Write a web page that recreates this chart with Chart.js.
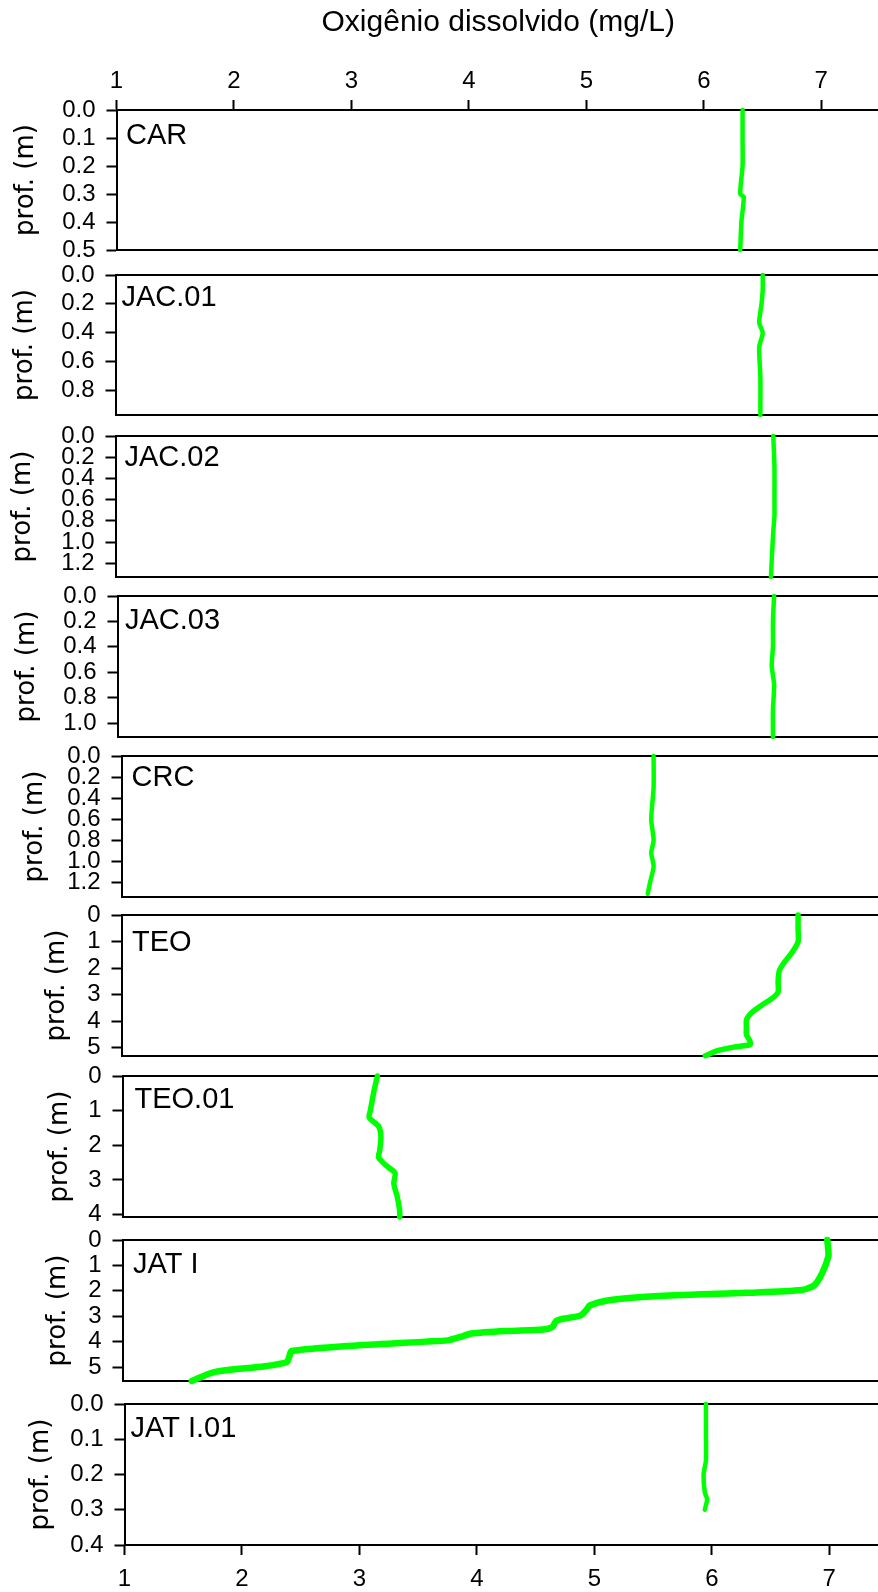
<!DOCTYPE html>
<html>
<head>
<meta charset="utf-8">
<script src="https://cdn.jsdelivr.net/npm/chart.js@4/dist/chart.umd.min.js"></script>
<style>
  html, body { margin: 0; padding: 0; background: #fff; width: 878px; height: 1592px; overflow: hidden; }
  .panel { position: absolute; }
</style>
</head>
<body>
<script>
// Dissolved-oxygen profiles: O.D. (mg/L) against depth (m) at each sampling station

const stations = ['CAR', 'JAC.01', 'JAC.02', 'JAC.03', 'CRC', 'TEO', 'TEO.01', 'JAT I', 'JAT I.01'];

const CAR_depth = [0, 0.1, 0.2, 0.3, 0.31, 0.4, 0.5];
const CAR_od    = [6.33, 6.33, 6.33, 6.31, 6.34, 6.32, 6.31];

const JAC01_depth = [0, 0.1, 0.2, 0.33, 0.4, 0.5, 0.7, 0.97];
const JAC01_od    = [6.51, 6.51, 6.50, 6.48, 6.51, 6.48, 6.49, 6.49];

const JAC02_depth = [0, 0.3, 0.6, 0.75, 0.9, 1.1, 1.33];
const JAC02_od    = [6.60, 6.61, 6.61, 6.61, 6.60, 6.59, 6.58];

const JAC03_depth = [0, 0.2, 0.4, 0.55, 0.7, 0.9, 1.11];
const JAC03_od    = [6.59, 6.58, 6.58, 6.57, 6.59, 6.58, 6.58];

const CRC_depth = [0, 0.3, 0.6, 0.8, 0.92, 1.05, 1.2, 1.31];
const CRC_od    = [5.53, 5.53, 5.51, 5.53, 5.51, 5.53, 5.50, 5.48];

const TEO_depth = [0, 0.5, 1.0, 1.4, 1.8, 2.1, 2.5, 2.9, 3.1, 3.4, 3.7, 3.95, 4.2, 4.5, 4.75, 4.88, 4.97, 5.1, 5.3];
const TEO_od    = [6.76, 6.76, 6.76, 6.71, 6.64, 6.60, 6.59, 6.59, 6.55, 6.45, 6.36, 6.32, 6.32, 6.32, 6.35, 6.35, 6.22, 6.08, 5.97];

const TEO01_depth = [0, 0.45, 1.0, 1.2, 1.45, 1.75, 2.15, 2.35, 2.6, 2.8, 3.1, 3.5, 3.9, 4.07];
const TEO01_od    = [3.17, 3.14, 3.11, 3.10, 3.18, 3.20, 3.19, 3.18, 3.25, 3.32, 3.31, 3.34, 3.36, 3.36];

const JATI_depth = [0, 0.6, 1.05, 1.45, 1.78, 1.97, 2.08, 2.21, 2.37, 2.57, 2.75, 2.97, 3.1, 3.2, 3.42, 3.52, 3.58, 3.68, 3.78, 3.95, 4.0, 4.15, 4.37, 4.58, 4.80, 4.97, 5.2, 5.55];
const JATI_od    = [7.00, 7.01, 6.98, 6.94, 6.89, 6.78, 6.31, 5.53, 5.14, 4.98, 4.95, 4.90, 4.75, 4.69, 4.66, 4.58, 4.28, 3.97, 3.90, 3.77, 3.58, 2.99, 2.44, 2.42, 2.40, 2.21, 1.78, 1.59];

const JATI01_depth = [0, 0.08, 0.16, 0.2, 0.25, 0.27, 0.3];
const JATI01_od    = [5.95, 5.95, 5.95, 5.93, 5.94, 5.96, 5.94];

// tick labels
const odTicks = ['1', '2', '3', '4', '5', '6', '7'];
const CAR_yTicks    = ['0.0', '0.1', '0.2', '0.3', '0.4', '0.5'];
const JAC01_yTicks  = ['0.0', '0.2', '0.4', '0.6', '0.8'];
const JAC02_yTicks  = ['0.0', '0.2', '0.4', '0.6', '0.8', '1.0', '1.2'];
const JAC03_yTicks  = ['0.0', '0.2', '0.4', '0.6', '0.8', '1.0'];
const CRC_yTicks    = ['0.0', '0.2', '0.4', '0.6', '0.8', '1.0', '1.2'];
const TEO_yTicks    = ['0', '1', '2', '3', '4', '5'];
const TEO01_yTicks  = ['0', '1', '2', '3', '4'];
const JATI_yTicks   = ['0', '1', '2', '3', '4', '5'];
const JATI01_yTicks = ['0.0', '0.1', '0.2', '0.3', '0.4'];

const xTitle = 'Oxigênio dissolvido (mg/L)';
const yTitle = 'prof. (m)';
const odRange = [1, 7.5];

// per-panel geometry (page pixels) and depth range
const panels = [
  { depth: CAR_depth,    od: CAR_od,    ticks: CAR_yTicks,    ymax: 0.5,  top: 110,  bottom: 250,  shift: 0,   titleX: 26, lab: [9.5, 26],   lw: 4.5 },
  { depth: JAC01_depth,  od: JAC01_od,  ticks: JAC01_yTicks,  ymax: 0.97, top: 275,  bottom: 415,  shift: -1,  titleX: 26, lab: [6, 23],     lw: 4.5 },
  { depth: JAC02_depth,  od: JAC02_od,  ticks: JAC02_yTicks,  ymax: 1.33, top: 436,  bottom: 577,  shift: -1,  titleX: 24, lab: [9, 22],     lw: 4.5 },
  { depth: JAC03_depth,  od: JAC03_od,  ticks: JAC03_yTicks,  ymax: 1.11, top: 596,  bottom: 737,  shift: 0.5, titleX: 26, lab: [7.5, 25],   lw: 4.5 },
  { depth: CRC_depth,    od: CRC_od,    ticks: CRC_yTicks,    ymax: 1.34, top: 756,  bottom: 897,  shift: 4.5, titleX: 30, lab: [10, 22],    lw: 4.5 },
  { depth: TEO_depth,    od: TEO_od,    ticks: TEO_yTicks,    ymax: 5.31, top: 915,  bottom: 1056, shift: 4.5, titleX: 52, lab: [10.5, 27.5], lw: 5.5 },
  { depth: TEO01_depth,  od: TEO01_od,  ticks: TEO01_yTicks,  ymax: 4.07, top: 1076, bottom: 1217, shift: 6,   titleX: 54, lab: [12, 24],    lw: 5.5 },
  { depth: JATI_depth,   od: JATI_od,   ticks: JATI_yTicks,   ymax: 5.55, top: 1240, bottom: 1381, shift: 6,   titleX: 52, lab: [10.5, 24.5], lw: 6.5 },
  { depth: JATI01_depth, od: JATI01_od, ticks: JATI01_yTicks, ymax: 0.4,  top: 1404, bottom: 1545, shift: 8,   titleX: 33, lab: [6, 24.5],   lw: 4.5 }
];

const AXIS_W = 116.5;      // width of the depth axis block
const EDGE = 32;           // spare room above/below each frame (holds the end tick labels)
const PAGE_H = 1592;
const LINE_GREEN = '#00ff00';
const SANS = '"Liberation Sans", Arial, Helvetica, sans-serif';
const WIDE = '"DejaVu Sans", Verdana, sans-serif';
const Y_TITLE_SIZE = 26;

const panelLabel = {
  id: 'panelLabel',
  afterDraw(chart, args, opts) {
    const { ctx, chartArea } = chart;
    ctx.save();
    ctx.font = '29px ' + SANS;
    ctx.fillStyle = '#000';
    ctx.textAlign = 'left';
    ctx.textBaseline = 'middle';
    ctx.fillText(opts.text, chartArea.left + opts.dx, chartArea.top + opts.dy);
    ctx.restore();
  }
};

function fixedHeight(h) { return s => { s.height = h; }; }

panels.forEach((p, i) => {
  const first = i === 0;
  const last = i === panels.length - 1;
  const topH = first ? p.top : EDGE;
  const botH = last ? PAGE_H - p.bottom : EDGE;
  const canvasTop = p.top - topH;
  const canvasH = topH + (p.bottom - p.top) + botH;

  const div = document.createElement('div');
  div.className = 'panel';
  div.style.left = p.shift + 'px';
  div.style.top = canvasTop + 'px';
  div.style.width = '880px';
  div.style.height = canvasH + 'px';
  const cv = document.createElement('canvas');
  cv.width = 880; cv.height = canvasH;
  div.appendChild(cv);
  document.body.appendChild(div);

  const frame = { display: true, color: '#000', width: 2 };
  const odScale = (position, showTicks, h) => ({
    type: 'linear', position, min: odRange[0], max: odRange[1],
    border: frame,
    grid: { display: showTicks, drawOnChartArea: false, drawTicks: true, tickLength: 10, tickWidth: 2, tickColor: '#000' },
    ticks: {
      display: showTicks, autoSkip: false, maxRotation: 0, color: '#000',
      padding: position === 'top' ? 4 : 10,
      font: { family: SANS, size: 24 },
      callback: (v, k) => odTicks[k]
    },
    afterBuildTicks: s => { s.ticks = odTicks.map(t => ({ value: Number(t) })); },
    title: {
      display: showTicks && position === 'top', text: xTitle, color: '#000',
      font: { family: SANS, size: 30 }, padding: { top: 5, bottom: 0 }
    },
    afterFit: fixedHeight(h)
  });

  new Chart(cv, {
    type: 'scatter',
    data: {
      datasets: [{
        label: stations[i],
        data: p.depth.map((d, k) => ({ x: p.od[k], y: d })),
        showLine: true,
        borderColor: LINE_GREEN,
        backgroundColor: LINE_GREEN,
        borderWidth: p.lw,
        borderCapStyle: 'round',
        borderJoinStyle: 'round',
        tension: 0.25,
        pointRadius: 0,
        clip: false,
        xAxisID: 'x',
        yAxisID: 'y'
      }]
    },
    options: {
      responsive: false,
      animation: false,
      devicePixelRatio: 1,
      layout: { padding: 0 },
      plugins: {
        legend: { display: false },
        tooltip: { enabled: false },
        panelLabel: { text: stations[i], dx: p.lab[0], dy: p.lab[1] }
      },
      scales: {
        x: odScale('bottom', last, botH),
        xTop: odScale('top', first, topH),
        y: {
          type: 'linear', position: 'left', reverse: true, min: 0, max: p.ymax,
          border: frame,
          grid: { drawOnChartArea: false, drawTicks: true, tickLength: 10, tickWidth: 2, tickColor: '#000' },
          ticks: {
            autoSkip: false, color: '#000', padding: 11,
            font: { family: SANS, size: 24 },
            callback: (v, k) => p.ticks[k]
          },
          afterBuildTicks: s => { s.ticks = p.ticks.map(t => ({ value: Number(t) })); },
          title: {
            display: true, text: yTitle, color: '#000',
            font: { family: WIDE, size: Y_TITLE_SIZE },
            padding: { top: p.titleX - Y_TITLE_SIZE * 0.6, bottom: 0 }
          },
          afterFit: s => { s.width = AXIS_W; }
        }
      }
    },
    plugins: [panelLabel]
  });
});
</script>
</body>
</html>
